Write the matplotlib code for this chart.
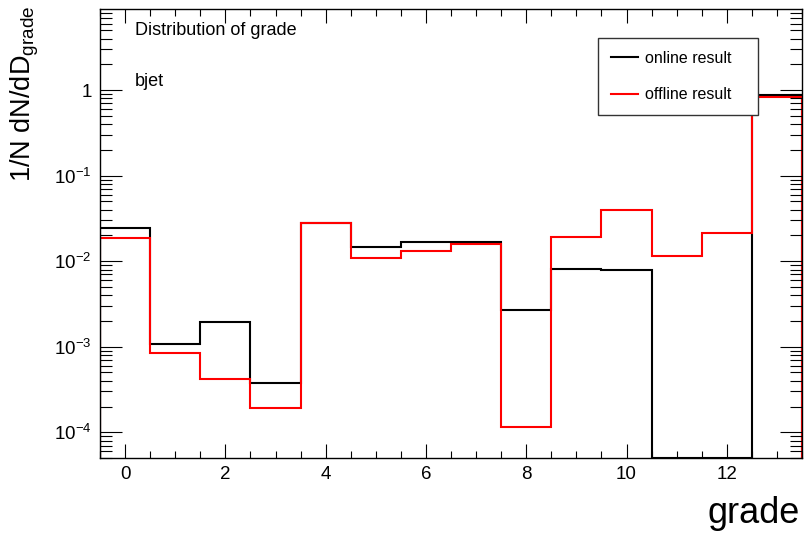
import numpy as np
import matplotlib
matplotlib.use("Agg")
import matplotlib.pyplot as plt
from matplotlib.ticker import MultipleLocator, LogLocator, FuncFormatter, NullFormatter

plt.rcParams["font.family"] = ["Liberation Sans", "DejaVu Sans"]
plt.rcParams["mathtext.fontset"] = "custom"
plt.rcParams["mathtext.rm"] = "Liberation Sans"
plt.rcParams["mathtext.it"] = "Liberation Sans:italic"

# ---------- histogram contents (normalised) ----------
grade_edges = np.arange(-0.5, 14.0, 1.0)
online = [0.0245, 1.08e-3, 1.93e-3, 3.8e-4, 0.0279, 0.0145, 0.0169,
          0.0169, 2.67e-3, 8.2e-3, 7.9e-3, 0.0, 0.0, 0.885]
offline = [0.0188, 8.5e-4, 4.24e-4, 1.91e-4, 0.0281, 0.0108, 0.0131,
           0.0161, 1.14e-4, 0.0194, 0.0395, 0.0114, 0.0215, 0.83]
labels = ["online result", "offline result"]

ymin, ymax = 5.0e-5, 8.9


def log_label(v, pos):
    e = int(round(np.log10(v)))
    if e == 0:
        return "1"
    return r"$\mathregular{10^{%d}}$" % e


fig = plt.figure(figsize=(8.05, 5.40), dpi=100)
ax = fig.add_axes([100 / 805, 1 - 458 / 540, 702 / 805, 449 / 540])

# empty bins sit on the bottom of the frame, like ROOT does on a log axis
on = np.clip(np.array(online), ymin, None)
off = np.clip(np.array(offline), ymin, None)
ax.stairs(on, grade_edges, color="black", lw=1.5, label=labels[0])
ax.stairs(off, grade_edges, color="#ff0000", lw=1.5, label=labels[1])

ax.set_yscale("log")
ax.set_xlim(-0.5, 13.5)
ax.set_ylim(ymin, ymax)

ax.xaxis.set_major_locator(MultipleLocator(2))
ax.xaxis.set_minor_locator(MultipleLocator(0.5))
ax.yaxis.set_major_locator(LogLocator(base=10, numticks=20))
ax.yaxis.set_minor_locator(LogLocator(base=10, subs=np.arange(2, 10), numticks=20))
ax.yaxis.set_major_formatter(FuncFormatter(log_label))
ax.yaxis.set_minor_formatter(NullFormatter())

ax.tick_params(which="both", direction="in", top=True, right=True,
               width=0.8, labelsize=13.5, color="black")
ax.tick_params(axis="x", which="major", length=10, pad=6)
ax.tick_params(axis="x", which="minor", length=5)
ax.tick_params(axis="y", which="major", length=15.5, pad=6)
ax.tick_params(axis="y", which="minor", length=8.5)
for s in ax.spines.values():
    s.set_linewidth(1.0)

fig.text(135 / 805, 1 - 35 / 540, "Distribution of grade", fontsize=13,
         ha="left", va="baseline")
fig.text(135 / 805, 1 - 86 / 540, "bjet", fontsize=13, ha="left", va="baseline")

fig.text(800 / 805, 1 - 523 / 540, "grade", fontsize=26, ha="right", va="baseline")
fig.text(25 / 805, 1 - 5 / 540, r"1/N dN/dD$_{\mathregular{grade}}$", fontsize=19.5,
         rotation=90, ha="center", va="top")

leg = ax.legend(loc="upper left", mode="expand",
                bbox_to_anchor=(598 / 805, 1 - 112 / 540, 160 / 805, 74 / 540),
                bbox_transform=fig.transFigure, fontsize=11.5, frameon=True,
                fancybox=False, borderaxespad=0, borderpad=0.8, labelspacing=1.35,
                handlelength=1.7, handletextpad=0.45)
leg.get_frame().set_edgecolor("#333333")
leg.get_frame().set_linewidth(1.0)
leg.get_frame().set_alpha(1)

fig.savefig("out.png", dpi=100)
